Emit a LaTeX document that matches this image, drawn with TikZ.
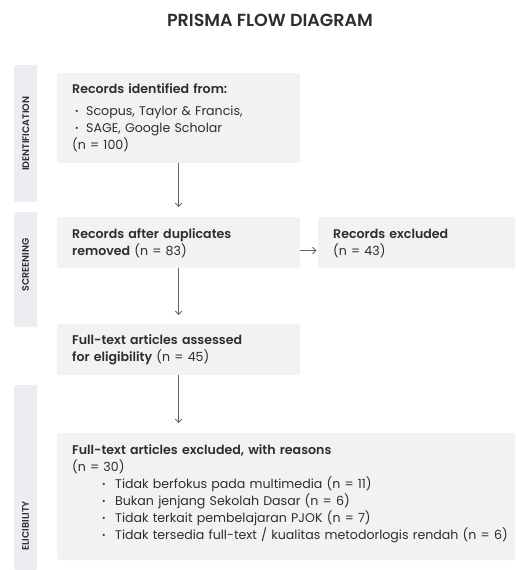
\documentclass[tikz,border=0pt]{standalone}
\usepackage{fontspec}
\setmainfont{Poppins}[BoldFont={Poppins SemiBold}]
\usepackage{tikz}
\usetikzlibrary{arrows}
\definecolor{boxgray}{HTML}{F1F2F4}
\definecolor{bargray}{HTML}{EBEDF0}
\definecolor{flowgray}{HTML}{56677A}
\definecolor{textdark}{HTML}{2E2E2E}
\newcommand{\bul}{\hspace*{3pt}\makebox[11pt][l]{\textbf{·}}}
\newcommand{\bulx}{\hspace*{30pt}\makebox[13pt][l]{\textbf{·}}}

\begin{document}
\begin{tikzpicture}[line cap=round,line join=round,>=angle 90,x=1pt,y=-1pt,
    box/.style={fill=boxgray,rounded corners=2pt,anchor=north west,inner sep=0pt},
    bar/.style={fill=bargray,rounded corners=2pt,anchor=north west,inner sep=0pt,minimum width=23pt},
    side/.style={rotate=90,font=\fontsize{9.5}{10}\selectfont\bfseries,text=textdark},
    txt/.style={anchor=base west,inner sep=0pt,align=left,text width=480pt,font=\fontsize{12.6}{17}\selectfont,text=textdark},
    flow/.style={->,color=flowgray,line width=0.9pt}]
      \useasboundingbox (0,0) rectangle (515,570);
      \node[font=\fontsize{17.5}{19}\selectfont\bfseries,text=textdark] (title) at (270,20) {PRISMA FLOW DIAGRAM};
      % stage bars
      \node[bar,minimum height=137pt] (idbar) at (14,65) {};
      \node[side] (idlab) at (idbar) {IDENTIFICATION};
      \node[bar,minimum height=115pt] (scbar) at (14,212) {};
      \node[side] (sclab) at (25.5,265) {SCREENING};
      \node[bar,minimum height=185pt] (elbar) at (14,385) {};
      \node[side] (ellab) at (25.5,526) {ELICIBILITY};
      % boxes
      \node[box,minimum width=243pt,minimum height=90pt] (ident) at (57,73) {};
      \node[box,minimum width=243pt,minimum height=51pt] (dup) at (57,217) {};
      \node[box,minimum width=197pt,minimum height=51pt] (recex) at (318,217) {};
      \node[box,minimum width=243pt,minimum height=51pt] (assess) at (57,324) {};
      \node[box,minimum width=458pt,minimum height=127pt] (excl) at (57,433) {};
      % texts
      \node[txt] (identT) at (72,93.5) {\textbf{Records identified from:}\\[4.5pt]
        \bul Scopus, Taylor \& Francis,\\ \bul SAGE, Google Scholar\\ (n = 100)};
      \node[txt] (dupT) at (72,238.5) {\textbf{Records after duplicates}\\ \textbf{removed} (n = 83)};
      \node[txt] (recexT) at (333,238.5) {\textbf{Records excluded}\\ (n = 43)};
      \node[txt] (assessT) at (72,344.5) {\textbf{Full-text articles assessed}\\ \textbf{for eligibility} (n = 45)};
      \node[txt] (exclT) at (72,454.5) {\textbf{Full-text articles excluded, with reasons}\\ (n = 30)\\
        \bulx Tidak berfokus pada multimedia (n = 11)\\
        \bulx Bukan jenjang Sekolah Dasar (n = 6)\\
        \bulx Tidak terkait pembelajaran PJOK (n = 7)\\
        \bulx Tidak tersedia full-text / kualitas metodorlogis rendah (n = 6)};
      % arrows
      \draw[flow,shorten >=10pt] (ident.south) -- (dup.north);
      \draw[flow,shorten >=9pt] (dup.south) -- (assess.north);
      \draw[flow,shorten >=10pt] (assess.south) -- (assess.south |- excl.north);
      \draw[flow,shorten >=1.5pt] ([yshift=-8pt]dup.east) -- ([yshift=-8pt]recex.west);
\end{tikzpicture}
\end{document}
